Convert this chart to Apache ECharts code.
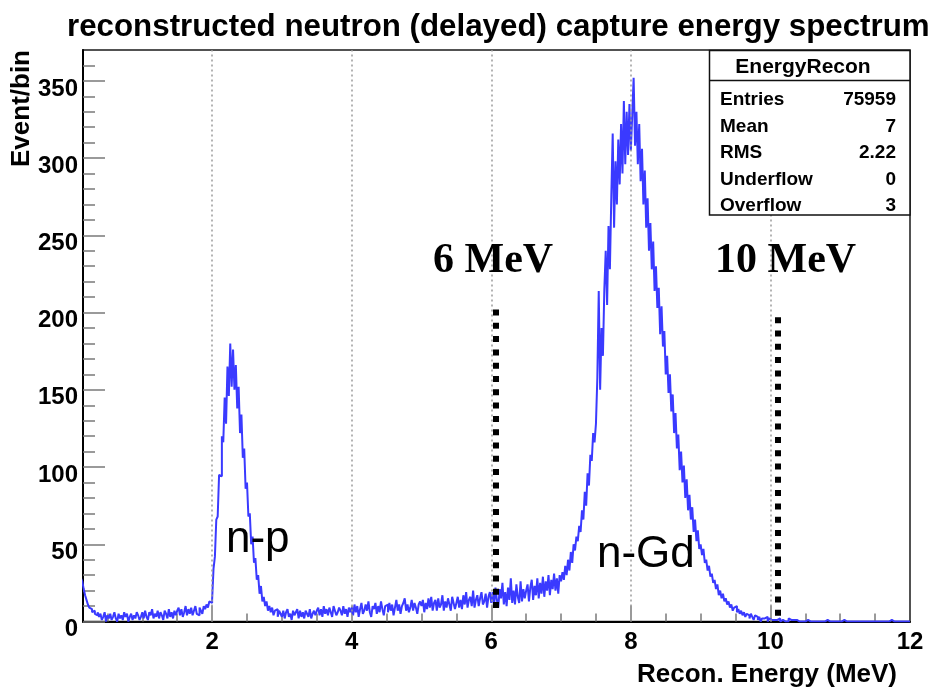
<!DOCTYPE html>
<html>
<head>
<meta charset="utf-8">
<title>EnergyRecon</title>
<script src="https://cdn.jsdelivr.net/npm/echarts@6/dist/echarts.min.js"></script>
<style>
  html, body { margin: 0; padding: 0; background: #fff; }
  #chart { width: 936px; height: 688px; }
</style>
</head>
<body>
<div id="chart"></div>
<script>
// Histogram "EnergyRecon": 600 bins of 0.02 MeV covering 0-12 MeV,
// kept as one array per 2 MeV slice (counts per bin).
const binWidth = 0.02;

const countsE0to2 = [
  38, 35, 33, 31, 30, 29, 28, 26, 21, 17, 14, 11, 9, 8, 6, 7, 5, 4, 6, 3,
  5, 1, 3, 6, 0, 4, 2, 5, 1, 3, 6, 2, 0, 5, 2, 4, 1, 6, 3, 5,
  0, 3, 5, 1, 4, 2, 6, 4, 1, 3, 6, 2, 7, 3, 1, 6, 4, 8, 2, 5,
  3, 7, 2, 6, 4, 1, 7, 5, 2, 8, 3, 6, 2, 7, 4, 7, 9, 4, 8, 3,
  6, 10, 4, 8, 5, 9, 4, 7, 10, 5, 4, 9, 7, 5, 10, 8, 11, 9, 13, 12
];
const countsE2to4 = [
  14, 34, 42, 66, 68, 95, 94, 120, 116, 145, 128, 165, 146, 180, 152, 176, 150, 166, 138, 152,
  122, 134, 106, 112, 86, 90, 68, 70, 50, 55, 38, 41, 27, 30, 18, 23, 13, 16, 10, 13,
  7, 10, 6, 9, 4, 7, 8, 3, 7, 5, 3, 7, 2, 6, 8, 3, 5, 1, 7, 4,
  6, 8, 2, 7, 3, 6, 2, 7, 5, 3, 8, 2, 5, 7, 4, 7, 9, 4, 8, 3,
  10, 5, 8, 4, 9, 6, 3, 10, 7, 4, 6, 9, 7, 4, 10, 5, 8, 3, 9, 6
];
const countsE4to6 = [
  9, 4, 11, 6, 10, 3, 8, 12, 5, 7, 11, 7, 13, 6, 3, 10, 8, 12, 5, 10,
  6, 13, 8, 4, 10, 11, 6, 12, 7, 11, 4, 9, 14, 7, 11, 5, 10, 12, 15, 7,
  11, 6, 9, 14, 7, 12, 9, 5, 11, 13, 10, 14, 6, 12, 8, 15, 9, 16, 7, 12,
  14, 7, 15, 9, 11, 17, 7, 13, 9, 15, 11, 7, 16, 12, 8, 12, 16, 9, 14, 8,
  17, 11, 19, 9, 14, 16, 10, 20, 9, 14, 17, 10, 15, 19, 11, 13, 18, 9, 16, 19
];
const countsE6to8 = [
  12, 19, 10, 22, 14, 9, 21, 15, 25, 11, 19, 10, 22, 14, 28, 12, 20, 11, 24, 16,
  12, 26, 13, 21, 15, 20, 24, 13, 22, 27, 14, 23, 17, 28, 15, 25, 18, 29, 16, 26,
  20, 30, 17, 27, 21, 31, 20, 28, 18, 30, 26, 32, 27, 36, 30, 40, 33, 45, 38, 50,
  46, 55, 52, 62, 58, 72, 66, 84, 75, 96, 88, 108, 104, 122, 116, 128, 158, 214, 150, 190,
  172, 215, 240, 205, 256, 228, 275, 316, 255, 298, 270, 312, 283, 322, 290, 337, 296, 330, 302, 335
];
const countsE8to10 = [
  305, 328, 352, 308, 330, 296, 322, 285, 306, 270, 292, 255, 274, 240, 258, 228, 246, 214, 230, 203,
  216, 186, 204, 178, 188, 160, 172, 148, 160, 136, 147, 122, 135, 112, 121, 98, 110, 90, 101, 80,
  92, 72, 82, 66, 74, 58, 66, 52, 59, 47, 50, 43, 47, 38, 40, 33, 36, 29, 31, 25,
  27, 21, 24, 17, 20, 15, 18, 13, 15, 11, 13, 9, 11, 7, 9, 10, 6, 8, 5, 7,
  4, 6, 3, 5, 4, 2, 5, 3, 1, 4, 3, 1, 3, 0, 2, 2, 1, 3, 0, 2
];
const countsE10to12 = [
  1, 2, 1, 0, 1, 1, 2, 0, 1, 1, 0, 1, 0, 2, 1, 0, 1, 0, 1, 0,
  0, 1, 0, 1, 0, 0, 1, 0, 0, 1, 0, 0, 0, 1, 0, 0, 0, 1, 0, 0,
  1, 0, 0, 0, 0, 1, 0, 0, 0, 0, 0, 0, 1, 0, 0, 0, 0, 0, 0, 1,
  0, 0, 0, 0, 0, 0, 0, 1, 0, 0, 0, 0, 0, 0, 0, 0, 0, 0, 0, 0,
  0, 0, 0, 0, 0, 0, 1, 0, 0, 0, 0, 0, 0, 0, 0, 0, 0, 0, 0, 0
];

// Axis ticks and labels
const xLabelValues = [2, 4, 6, 8, 10, 12];
const xMajorTicks = [2, 4, 6, 8, 10];
const xMinorTicks = [0.5, 1, 1.5, 2.5, 3, 3.5, 4.5, 5, 5.5, 6.5, 7, 7.5, 8.5, 9, 9.5, 10.5, 11, 11.5];
const xGridValues = [2, 4, 6, 8, 10];
const yLabelValues = [0, 50, 100, 150, 200, 250, 300, 350];
const yMinorTicks = [10, 20, 30, 40, 60, 70, 80, 90, 110, 120, 130, 140, 160, 170, 180, 190,
  210, 220, 230, 240, 260, 270, 280, 290, 310, 320, 330, 340, 360];

// Statistics box
const statsName = 'EnergyRecon';
const statsLabels = ['Entries', 'Mean', 'RMS', 'Underflow', 'Overflow'];
const statsValues = ['75959', '7', '2.22', '0', '3'];

// Energy cut markers (MeV) and their vertical extent in counts
const cutEnergies = [6.07, 10.11];
const cutTops = [202, 197];
const cutBottoms = [6, 3];
const cutLabels = ['6 MeV', '10 MeV'];

const titleText = 'reconstructed neutron (delayed) capture energy spectrum';
const xTitle = 'Recon. Energy (MeV)';
const yTitle = 'Event/bin';

// ---- build the step outline from the bin contents ----
const counts = [].concat(countsE0to2, countsE2to4, countsE4to6, countsE6to8, countsE8to10, countsE10to12);
const points = counts.map((c, i) => [+(i * binWidth).toFixed(2), c]);
points.push([12, counts[counts.length - 1]]);

const SANS = '"Liberation Sans", Arial, Helvetica, sans-serif';
const SERIF = '"Liberation Serif", "Times New Roman", serif';
const tickStyle = { color: '#7a7a7a', width: 1.5 };

const chart = echarts.init(document.getElementById('chart'), null, { renderer: 'canvas' });

function txt(x, y, text, font, align, vAlign, extra) {
  return Object.assign({
    type: 'text', x: x, y: y, z: 100, silent: true,
    style: {
      text: text, font: font, fill: '#000',
      align: align, textAlign: align,
      verticalAlign: vAlign, textVerticalAlign: vAlign
    }
  }, extra || {});
}

const graphics = [];
graphics.push(txt(67, 27, titleText, 'bold 31.3px ' + SANS, 'left', 'middle'));
graphics.push(txt(897, 675, xTitle, 'bold 26px ' + SANS, 'right', 'middle'));
graphics.push(txt(22, 50, yTitle, 'bold 26px ' + SANS, 'right', 'middle', { rotation: Math.PI / 2 }));

// stats box
graphics.push({
  type: 'rect', z: 99, silent: true,
  shape: { x: 709.5, y: 50.5, width: 200.5, height: 164.5 },
  style: { fill: '#fff', stroke: '#111', lineWidth: 1.5 }
});
graphics.push({
  type: 'line', z: 100, silent: true,
  shape: { x1: 709.5, y1: 80.5, x2: 910, y2: 80.5 },
  style: { stroke: '#111', lineWidth: 1.5 }
});
graphics.push(txt(803, 67, statsName, 'bold 21px ' + SANS, 'center', 'middle'));
statsLabels.forEach((lab, i) => {
  const y = 100 + i * 26.5;
  graphics.push(txt(720, y, lab, 'bold 19px ' + SANS, 'left', 'middle'));
  graphics.push(txt(896, y, statsValues[i], 'bold 19px ' + SANS, 'right', 'middle'));
});

// annotations
graphics.push(txt(433, 261, cutLabels[0], 'bold 42px ' + SERIF, 'left', 'middle'));
graphics.push(txt(715, 261, cutLabels[1], 'bold 42px ' + SERIF, 'left', 'middle'));
graphics.push(txt(226, 540, 'n-p', '44px ' + SANS, 'left', 'middle'));
graphics.push(txt(597, 555, 'n-Gd', '44px ' + SANS, 'left', 'middle'));

const gridLines = xGridValues.map(v => ({
  xAxis: v,
  lineStyle: { type: [2, 3], color: '#9a9a9a', width: 1.5 }
}));
const cutLines = cutEnergies.map((e, i) => [
  { coord: [e, cutTops[i]], lineStyle: { type: [6, 7.3], color: '#000', width: 6, cap: 'butt' } },
  { coord: [e, cutBottoms[i]] }
]);

const option = {
  animation: false,
  backgroundColor: '#fff',
  grid: {
    left: 83, right: 26, top: 50, bottom: 66.5,
    show: true, borderColor: '#1a1a1a', borderWidth: 1.5, backgroundColor: 'transparent'
  },
  xAxis: [{
    type: 'value', min: 0.15, max: 12, position: 'bottom',
    axisLine: { show: true, onZero: false, lineStyle: { color: '#000', width: 2 } },
    axisTick: { show: true, inside: true, length: 8, customValues: xMinorTicks, lineStyle: tickStyle },
    axisLabel: {
      show: true, customValues: xLabelValues, margin: 9,
      fontSize: 24, fontWeight: 'bold', fontFamily: SANS, color: '#000'
    },
    splitLine: { show: false }
  }, {
    type: 'value', min: 0.15, max: 12, position: 'bottom',
    axisLine: { show: false },
    axisTick: { show: true, inside: true, length: 16, customValues: xMajorTicks, lineStyle: tickStyle },
    axisLabel: { show: false },
    splitLine: { show: false }
  }],
  yAxis: [{
    type: 'value', min: 0, max: 370, position: 'left',
    axisLine: { show: true, onZero: false, lineStyle: { color: '#000', width: 2 } },
    axisTick: { show: true, inside: true, length: 22, customValues: yLabelValues, lineStyle: tickStyle },
    axisLabel: {
      show: true, customValues: yLabelValues, margin: 5,
      verticalAlign: 'top', lineHeight: 16,
      fontSize: 24, fontWeight: 'bold', fontFamily: SANS, color: '#000'
    },
    splitLine: { show: false }
  }, {
    type: 'value', min: 0, max: 370, position: 'left',
    axisLine: { show: false },
    axisTick: { show: true, inside: true, length: 12, customValues: yMinorTicks, lineStyle: tickStyle },
    axisLabel: { show: false },
    splitLine: { show: false }
  }],
  series: [{
    name: 'EnergyRecon',
    type: 'line',
    xAxisIndex: 0, yAxisIndex: 0,
    data: points,
    step: 'end',
    symbol: 'none',
    clip: true,
    lineStyle: { color: '#3a3aff', width: 2 },
    markLine: {
      silent: true,
      symbol: ['none', 'none'],
      label: { show: false },
      emphasis: { disabled: true },
      data: gridLines.concat(cutLines)
    }
  }],
  graphic: graphics
};

chart.setOption(option);
</script>
</body>
</html>
